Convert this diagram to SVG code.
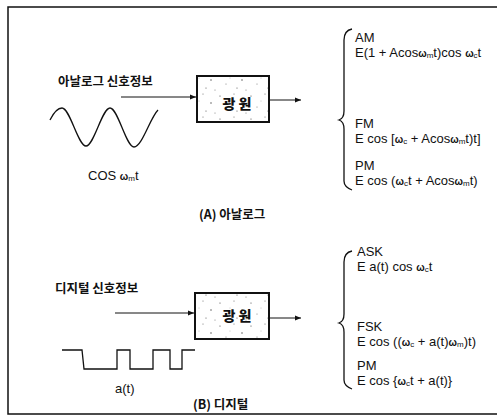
<svg xmlns="http://www.w3.org/2000/svg" width="497" height="418" viewBox="0 0 497 418">
<style>
.t{font-family:"Liberation Sans",Arial,sans-serif;font-size:13px;fill:#111}
.k{font-family:"Noto Sans CJK KR","Noto Sans",sans-serif;font-size:12.5px;font-weight:bold;fill:#111}
.w{font-size:10px;font-weight:bold}
.s{font-size:8px}
.ln{fill:none;stroke:#111;stroke-width:1}
.br{fill:none;stroke:#111;stroke-width:1.3}
.box{fill:url(#speck);stroke:#111;stroke-width:2}
.bt{font-family:"Noto Sans CJK KR",sans-serif;font-size:14px;font-weight:900;fill:#111}
</style>
<defs>
<marker id="ah" viewBox="0 0 6 6" refX="6" refY="3" markerWidth="6" markerHeight="6" markerUnits="userSpaceOnUse" orient="auto">
<path d="M0,0.5 L6,3 L0,5.5 Z" fill="#111"/>
</marker>
<pattern id="speck" width="31" height="23" patternUnits="userSpaceOnUse">
<rect width="31" height="23" fill="#fff"/>
<circle cx="3" cy="4" r="0.6" fill="#444"/>
<circle cx="17" cy="2" r="0.5" fill="#555"/>
<circle cx="25" cy="11" r="0.7" fill="#444"/>
<circle cx="9" cy="15" r="0.5" fill="#666"/>
<circle cx="20" cy="19" r="0.6" fill="#555"/>
<circle cx="13" cy="9" r="0.4" fill="#777"/>
<circle cx="29" cy="21" r="0.5" fill="#666"/>
</pattern>
</defs>

<g id="frame">
<path d="M497,7 H8 V414 H497" fill="none" stroke="#111" stroke-width="1.5"/>
</g>

<g id="connectors">
<line class="ln" x1="121" y1="97" x2="196" y2="97" marker-end="url(#ah)"/>
<line class="ln" x1="269" y1="100" x2="301" y2="100" marker-end="url(#ah)"/>
<line class="ln" x1="115" y1="313" x2="194" y2="313" marker-end="url(#ah)"/>
<line class="ln" x1="269" y1="318" x2="301" y2="318" marker-end="url(#ah)"/>
</g>

<g id="analog-input">
<text class="k" x="58" y="86">아날로그 신호정보</text>
<path class="br" d="M50,120 C54,112 58,108 62,108 C70,108 78,146 86,146 C94,146 102,108 110,108 C118,108 126,147 134,147 C142,147 150,118 158,110"/>
<text class="t" x="88" y="180">COS <tspan class="w">ω</tspan><tspan class="s" dy="1">m</tspan><tspan dy="-1">t</tspan></text>
</g>

<g id="source-a">
<rect class="box" x="197" y="76" width="72" height="46"/>
<text class="bt" x="237" y="109" text-anchor="middle">광 원</text>
</g>

<g id="analog-outputs">
<path class="br" d="M352,29 C347,30 344,34 344,40 V111 C344,116 342,119 339,120 C342,121 344,124 344,129 V181 C344,185 347,188 352,190"/>
<text class="t" x="355" y="42">AM</text>
<text class="t" x="355" y="57">E(1 + Acos<tspan class="w">ω</tspan><tspan class="s" dy="1">m</tspan><tspan dy="-1">t)cos </tspan><tspan class="w">ω</tspan><tspan class="s" dy="1">c</tspan><tspan dy="-1">t</tspan></text>
<text class="t" x="355" y="128">FM</text>
<text class="t" x="355" y="143">E cos [<tspan class="w">ω</tspan><tspan class="s" dy="1">c</tspan><tspan dy="-1"> + Acos</tspan><tspan class="w">ω</tspan><tspan class="s" dy="1">m</tspan><tspan dy="-1">t)t]</tspan></text>
<text class="t" x="355" y="170">PM</text>
<text class="t" x="355" y="185">E cos (<tspan class="w">ω</tspan><tspan class="s" dy="1">c</tspan><tspan dy="-1">t + Acos</tspan><tspan class="w">ω</tspan><tspan class="s" dy="1">m</tspan><tspan dy="-1">t)</tspan></text>
</g>

<text class="k" x="199" y="219">(A) 아날로그</text>

<g id="digital-input">
<text class="k" x="55" y="293">디지털 신호정보</text>
<path class="br" d="M62,350 H82 L84,369 H117 V350 H130 V369 H153 V350 H170 V369 H182 V350 H195"/>
<text class="t" x="115" y="393">a(t)</text>
</g>

<g id="source-b">
<rect class="box" x="195" y="293" width="74" height="46"/>
<text class="bt" x="237" y="321" text-anchor="middle">광 원</text>
</g>

<g id="digital-outputs">
<path class="br" d="M352,251 C347,252 344,256 344,262 V314 C344,319 342,322 339,323 C342,324 344,327 344,332 V380 C344,384 347,387 352,389"/>
<text class="t" x="357" y="256">ASK</text>
<text class="t" x="357" y="271">E a(t) cos <tspan class="w">ω</tspan><tspan class="s" dy="1">c</tspan><tspan dy="-1">t</tspan></text>
<text class="t" x="357" y="331">FSK</text>
<text class="t" x="357" y="346">E cos ((<tspan class="w">ω</tspan><tspan class="s" dy="1">c</tspan><tspan dy="-1"> + a(t)</tspan><tspan class="w">ω</tspan><tspan class="s" dy="1">m</tspan><tspan dy="-1">)t)</tspan></text>
<text class="t" x="357" y="370">PM</text>
<text class="t" x="357" y="385">E cos {<tspan class="w">ω</tspan><tspan class="s" dy="1">c</tspan><tspan dy="-1">t + a(t)}</tspan></text>
</g>

<text class="k" x="193" y="409">(B) 디지털</text>
</svg>
